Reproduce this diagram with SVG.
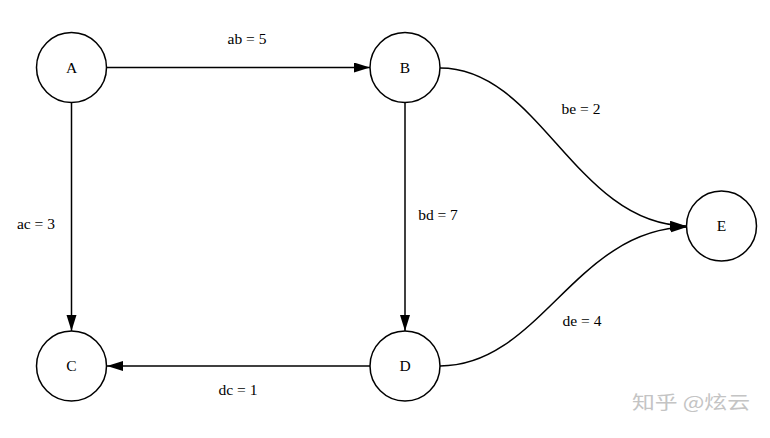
<svg xmlns="http://www.w3.org/2000/svg" width="770" height="438" viewBox="0 0 770 438">
<style>
.node circle{fill:#fff;stroke:#000;stroke-width:1.5}
.node text{font-family:"Liberation Serif",serif;font-size:15.5px;text-anchor:middle;fill:#000}
.edge{fill:none;stroke:#000;stroke-width:1.5;marker-end:url(#arr)}
.lbl{font-family:"Liberation Serif",serif;font-size:15.5px;text-anchor:middle;fill:#000}
.wm{font-family:"Noto Sans CJK SC","Noto Sans",sans-serif;font-size:18px;fill:#c4c4c4}
</style>
<defs>
<marker id="arr" markerUnits="userSpaceOnUse" markerWidth="17" markerHeight="11" refX="16" refY="5" orient="auto">
<polygon points="0,0 16,5 0,10" fill="#000"/>
</marker>
</defs>
<rect width="770" height="438" fill="#fff"/>
<g id="connectors">
<path class="edge" d="M107,67.5 L370,67.5"/>
<path class="edge" d="M71.5,103 L71.5,331"/>
<path class="edge" d="M405,103 L405,331"/>
<path class="edge" d="M370,366 L107,366"/>
<path class="edge" d="M440,68 C540,68 575,224 686,226"/>
<path class="edge" d="M440,366 C540,366 575,229 687,227"/>
<text class="lbl" x="247" y="44">ab = 5</text>
<text class="lbl" x="36" y="229">ac = 3</text>
<text class="lbl" x="438" y="220">bd = 7</text>
<text class="lbl" x="238" y="395">dc = 1</text>
<text class="lbl" x="581" y="114">be = 2</text>
<text class="lbl" x="582" y="326">de = 4</text>
</g>
<g id="A" class="node"><circle cx="71.5" cy="67.5" r="35"/><text x="71.5" y="72.5">A</text></g>
<g id="B" class="node"><circle cx="405" cy="67.5" r="35"/><text x="405" y="72.5">B</text></g>
<g id="C" class="node"><circle cx="71.5" cy="366" r="35"/><text x="71.5" y="371">C</text></g>
<g id="D" class="node"><circle cx="405" cy="366" r="35"/><text x="405" y="371">D</text></g>
<g id="E" class="node"><circle cx="721.5" cy="226" r="35"/><text x="721.5" y="231">E</text></g>
<text class="wm" x="632" y="409" textLength="118" lengthAdjust="spacingAndGlyphs">知乎 @炫云</text>
</svg>
